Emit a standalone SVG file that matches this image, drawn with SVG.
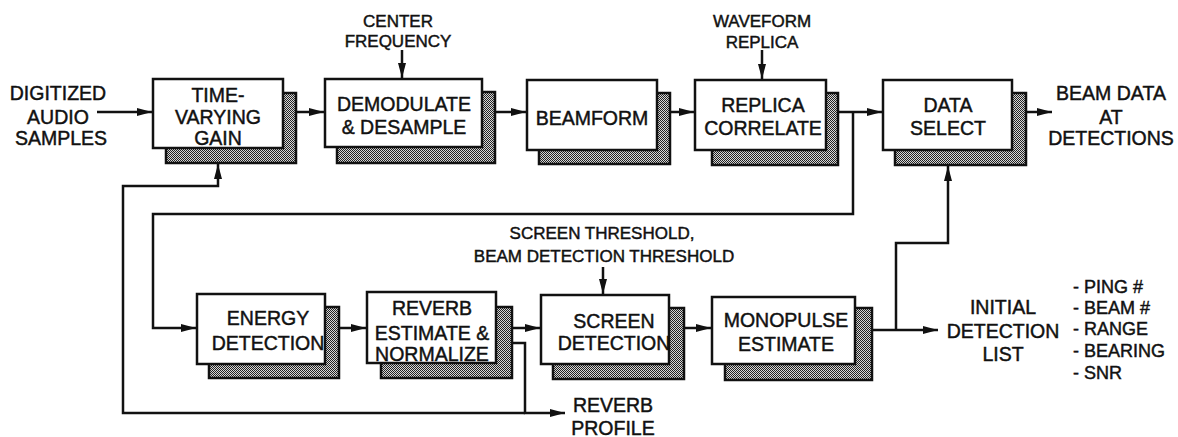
<svg xmlns="http://www.w3.org/2000/svg" width="1178" height="437" viewBox="0 0 1178 437">
<style>
text{font-family:"Liberation Sans",Arial,sans-serif;fill:#111;stroke:#111;stroke-width:0.45;text-anchor:middle}
.b{font-size:19.5px}
.s{font-size:17px}
.l{font-size:18px;text-anchor:start}
.box{fill:#fff;stroke:#111;stroke-width:2.5}
.sh{fill:url(#stip);stroke:#111;stroke-width:2.5}
.c{fill:none;stroke:#111;stroke-width:2.5}
</style>
<defs>
<pattern id="stip" width="2" height="2" patternUnits="userSpaceOnUse">
<rect width="2" height="2" fill="#d8d8d8"/>
<rect width="1" height="1" fill="#222"/>
<rect x="1" y="1" width="1" height="1" fill="#222"/>
</pattern>
<marker id="ah" viewBox="0 0 15 9" markerWidth="15" markerHeight="9" refX="15" refY="4.5" orient="auto" markerUnits="userSpaceOnUse">
<path d="M0,0.5 L15,4.5 L0,8.5 Z" fill="#111"/>
</marker>
</defs>
<rect width="1178" height="437" fill="#fff"/>

<g id="connectors">
<path class="c" d="M97,112 H152" marker-end="url(#ah)"/>
<path class="c" d="M296,112 H324" marker-end="url(#ah)"/>
<path class="c" d="M495,112 H526" marker-end="url(#ah)"/>
<path class="c" d="M670,112 H694" marker-end="url(#ah)"/>
<path class="c" d="M839,112 H882" marker-end="url(#ah)"/>
<path class="c" d="M1026,112 H1052" marker-end="url(#ah)"/>
<path class="c" d="M402,50 V78" marker-end="url(#ah)"/>
<path class="c" d="M762,50 V79" marker-end="url(#ah)"/>
<path class="c" d="M853,112 V214 H153 V328 H196" marker-end="url(#ah)"/>
<path class="c" d="M339,328 H366" marker-end="url(#ah)"/>
<path class="c" d="M512,328 H540" marker-end="url(#ah)"/>
<path class="c" d="M684,328 H711" marker-end="url(#ah)"/>
<path class="c" d="M872,330 H938" marker-end="url(#ah)"/>
<path class="c" d="M896,330 V243 H948 V166" marker-end="url(#ah)"/>
<path class="c" d="M603,267 V294" marker-end="url(#ah)"/>
<path class="c" d="M512,343 H525 V413 H565" marker-end="url(#ah)"/>
<path class="c" d="M525,413 H123 V186 H218 V164" marker-end="url(#ah)"/>
</g>

<g id="tvg">
<rect class="sh" x="166" y="93" width="130" height="70"/>
<rect class="box" x="153" y="79" width="130" height="69"/>
<text class="b" x="218" y="102">TIME-</text>
<text class="b" x="218" y="124">VARYING</text>
<text class="b" x="218" y="145">GAIN</text>
</g>

<g id="demod">
<rect class="sh" x="337" y="92" width="158" height="71"/>
<rect class="box" x="325" y="79" width="157" height="68"/>
<text class="b" x="404" y="111">DEMODULATE</text>
<text class="b" x="404" y="134">&amp; DESAMPLE</text>
</g>

<g id="beamform">
<rect class="sh" x="539" y="93" width="131" height="71"/>
<rect class="box" x="527" y="80" width="130" height="70"/>
<text class="b" x="592" y="125">BEAMFORM</text>
</g>

<g id="replica">
<rect class="sh" x="712" y="93" width="126" height="72"/>
<rect class="box" x="695" y="80" width="131" height="70"/>
<text class="b" x="763" y="112">REPLICA</text>
<text class="b" x="763" y="135">CORRELATE</text>
</g>

<g id="dataselect">
<rect class="sh" x="895" y="93" width="131" height="72"/>
<rect class="box" x="883" y="80" width="129" height="70"/>
<text class="b" x="948" y="112">DATA</text>
<text class="b" x="948" y="135">SELECT</text>
</g>

<g id="energy">
<rect class="sh" x="209" y="307" width="130" height="71"/>
<rect class="box" x="197" y="294" width="128" height="70"/>
<text class="b" x="268" y="325">ENERGY</text>
<text class="b" x="268" y="350">DETECTION</text>
</g>

<g id="reverb">
<rect class="sh" x="381" y="307" width="131" height="71"/>
<rect class="box" x="367" y="292" width="129" height="71"/>
<text class="b" x="432" y="315">REVERB</text>
<text class="b" x="432" y="340">ESTIMATE &amp;</text>
<text class="b" x="432" y="361">NORMALIZE</text>
</g>

<g id="screen">
<rect class="sh" x="553" y="308" width="131" height="71"/>
<rect class="box" x="541" y="295" width="128" height="69"/>
<text class="b" x="614" y="328">SCREEN</text>
<text class="b" x="614" y="350">DETECTION</text>
</g>

<g id="monopulse">
<rect class="sh" x="725" y="308" width="147" height="72"/>
<rect class="box" x="712" y="297" width="143" height="67"/>
<text class="b" x="786" y="327">MONOPULSE</text>
<text class="b" x="786" y="351">ESTIMATE</text>
</g>

<g id="labels">
<text class="b" x="58" y="100">DIGITIZED</text>
<text class="b" x="58" y="124">AUDIO</text>
<text class="b" x="61" y="145">SAMPLES</text>
<text class="s" x="398" y="27">CENTER</text>
<text class="s" x="398" y="47">FREQUENCY</text>
<text class="s" x="762" y="27">WAVEFORM</text>
<text class="s" x="762" y="48">REPLICA</text>
<text class="b" x="1111" y="100">BEAM DATA</text>
<text class="b" x="1111" y="124">AT</text>
<text class="b" x="1111" y="145">DETECTIONS</text>
<text class="s" x="602" y="239">SCREEN THRESHOLD,</text>
<text class="s" x="604" y="262">BEAM DETECTION THRESHOLD</text>
<text class="b" x="613" y="412">REVERB</text>
<text class="b" x="613" y="435">PROFILE</text>
<text class="b" x="1003" y="314">INITIAL</text>
<text class="b" x="1003" y="338">DETECTION</text>
<text class="b" x="1003" y="361">LIST</text>
<text class="l" x="1073" y="293">- PING #</text>
<text class="l" x="1073" y="314">- BEAM #</text>
<text class="l" x="1073" y="335">- RANGE</text>
<text class="l" x="1073" y="357">- BEARING</text>
<text class="l" x="1073" y="379">- SNR</text>
</g>
</svg>
